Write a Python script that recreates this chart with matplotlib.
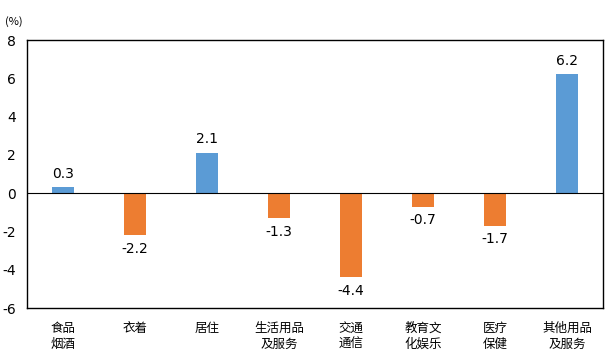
import matplotlib.pyplot as plt

plt.rcParams['font.family'] = ['Noto Sans CJK SC', 'DejaVu Sans']

categories = ['食品\n烟酒', '衣着', '居住', '生活用品\n及服务', '交通\n通信', '教育文\n化娱乐', '医疗\n保健', '其他用品\n及服务']
values = [0.3, -2.2, 2.1, -1.3, -4.4, -0.7, -1.7, 6.2]
yticks = [-6, -4, -2, 0, 2, 4, 6, 8]

blue = '#5B9BD5'
orange = '#ED7D31'
colors = [blue if v >= 0 else orange for v in values]

fig = plt.figure(figsize=(6.13, 3.64), dpi=100)
ax = fig.add_axes([27 / 613, 56 / 364, 576 / 613, 268 / 364])

x = list(range(len(values)))
ax.bar(x, values, width=0.3, color=colors, zorder=2)
ax.axhline(0, color='black', linewidth=0.8, zorder=3)

for xi, v in zip(x, values):
    if v >= 0:
        ax.text(xi, v + 0.35, f'{v:.1f}', ha='center', va='bottom', fontsize=10, family='DejaVu Sans')
    else:
        ax.text(xi, v - 0.35, f'{v:.1f}', ha='center', va='top', fontsize=10, family='DejaVu Sans')

ax.set_xlim(-0.5, len(values) - 0.5)
ax.set_ylim(-6, 8)
ax.set_yticks(yticks)
ax.set_yticklabels([str(t) for t in yticks], family='DejaVu Sans', fontsize=10)
ax.set_xticks(x)
ax.set_xticklabels(categories, fontsize=9, linespacing=1.3)
ax.tick_params(axis='both', length=0, pad=8)
ax.tick_params(axis='x', pad=10)
for s in ax.spines.values():
    s.set_linewidth(1.0)

fig.text(5 / 613, 1 - 22 / 364, '(%)', fontsize=8, va='center', ha='left')

fig.savefig('out.png', dpi=100)
